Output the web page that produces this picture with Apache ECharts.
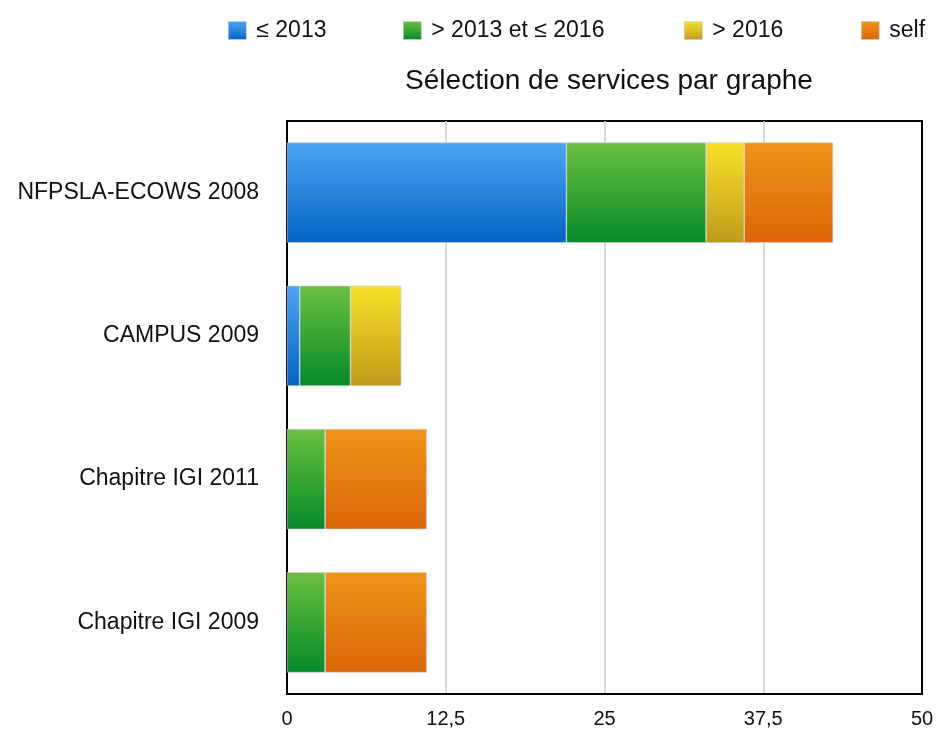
<!DOCTYPE html>
<html>
<head>
<meta charset="utf-8">
<script src="https://cdn.jsdelivr.net/npm/echarts@6/dist/echarts.min.js"></script>
<style>
  html, body { margin: 0; padding: 0; background: #fff; }
  #chart { width: 938px; height: 729px; }
</style>
</head>
<body>
<div id="chart"></div>
<script>
// Papers (top to bottom) and the number of services selected per period
const categories = ['NFPSLA-ECOWS 2008', 'CAMPUS 2009', 'Chapitre IGI 2011', 'Chapitre IGI 2009'];
const seriesNames = ['≤ 2013', '> 2013 et ≤ 2016', '> 2016', 'self'];
const upTo2013 = [22, 1, 0, 0];
const from2013To2016 = [11, 4, 3, 3];
const after2016 = [3, 4, 0, 0];
const selfRefs = [7, 0, 8, 8];
const xTicks = [0, 12.5, 25, 37.5, 50];

const values = [upTo2013, from2013To2016, after2016, selfRefs];
const gradients = [
  ['#4da4f3', '#0463c5'],
  ['#6cc03f', '#058a2a'],
  ['#f7e12a', '#c19a1c'],
  ['#ef9519', '#dc6508']
];

function grad(c) {
  return new echarts.graphic.LinearGradient(0, 0, 0, 1, [
    { offset: 0, color: c[0] },
    { offset: 1, color: c[1] }
  ]);
}

const series = seriesNames.map((name, i) => ({
  name: name,
  type: 'bar',
  stack: 'total',
  barWidth: '70%',
  data: values[i].map(v => (v === 0 ? null : v)),
  itemStyle: { color: grad(gradients[i]), borderColor: '#d0d0d0', borderWidth: 0.6 },
  emphasis: { disabled: true }
}));

// one legend block per entry so each sits at its own spot in the header row
const legendLeft = [223, 398, 679, 856];
const legends = seriesNames.map((name, i) => ({
  data: [name],
  left: legendLeft[i],
  top: 14,
  itemWidth: 18,
  itemHeight: 18,
  icon: 'rect',
  itemStyle: { borderColor: '#cfcfcf', borderWidth: 0.6 },
  textStyle: {
    fontFamily: 'Liberation Sans',
    fontSize: 23,
    color: '#111',
    padding: [0, 0, 0, 5]
  }
}));

const chart = echarts.init(document.getElementById('chart'), null, { renderer: 'canvas' });
chart.setOption({
  animation: false,
  backgroundColor: '#fff',
  title: {
    text: 'Sélection de services par graphe',
    left: 604,
    textAlign: 'center',
    top: 62,
    textStyle: { fontFamily: 'Liberation Sans', fontSize: 28, fontWeight: 'normal', color: '#111' }
  },
  legend: legends,
  grid: {
    left: 287, right: 16, top: 121, bottom: 35,
    show: true, borderColor: '#000', borderWidth: 2
  },
  xAxis: {
    type: 'value',
    min: 0, max: 50, interval: 12.5,
    axisLine: { show: true, lineStyle: { color: '#000', width: 2 } },
    axisTick: { show: false },
    splitLine: { show: true, showMinLine: false, showMaxLine: false, lineStyle: { color: '#cccccc', width: 1.5 } },
    axisLabel: {
      fontFamily: 'Liberation Sans', fontSize: 20, color: '#111', margin: 15,
      formatter: v => (xTicks.includes(v) ? String(v).replace('.', ',') : '')
    }
  },
  yAxis: {
    type: 'category',
    inverse: true,
    data: categories,
    axisLine: { show: true, lineStyle: { color: '#000', width: 2 } },
    axisTick: { show: false },
    axisLabel: { fontFamily: 'Liberation Sans', fontSize: 23, color: '#111', margin: 28 }
  },
  series: series
});
</script>
</body>
</html>
